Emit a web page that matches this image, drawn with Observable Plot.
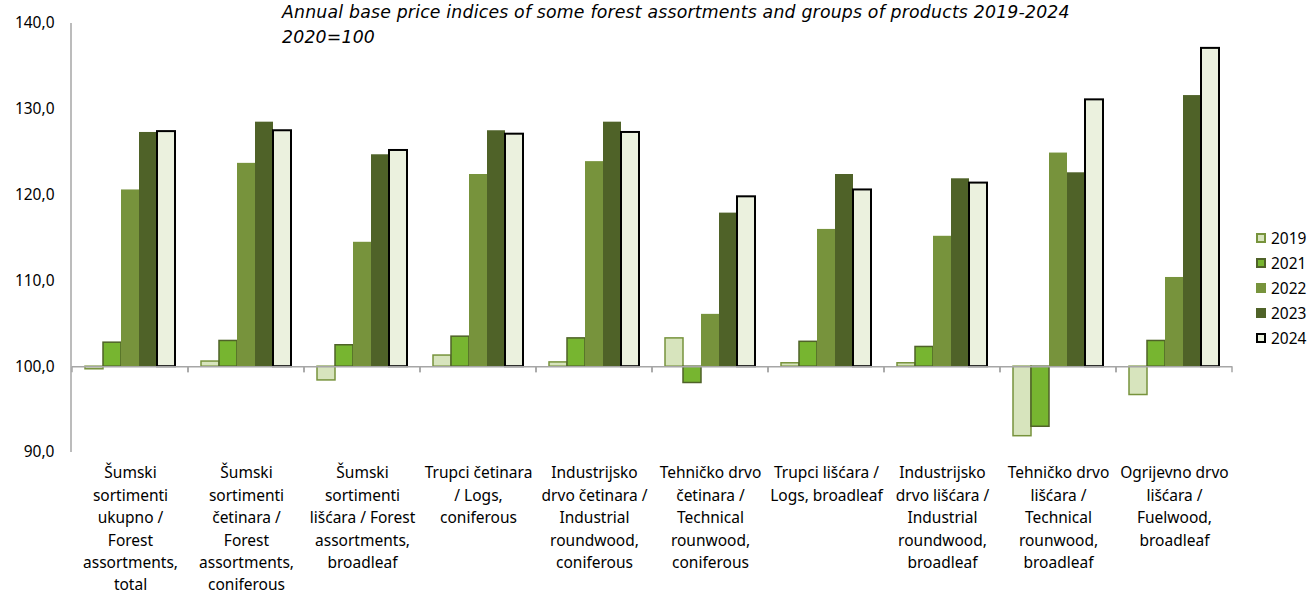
<!DOCTYPE html>
<html>
<head>
<meta charset="utf-8">
<script src="https://cdn.jsdelivr.net/npm/d3@7"></script>
<script src="https://cdn.jsdelivr.net/npm/@observablehq/plot@0.6"></script>
<style>
  html, body { margin: 0; padding: 0; background: #fff; }
  #wrap { position: relative; width: 1311px; height: 595px; font-family: "Noto Sans", Lato, sans-serif; }
  #title { position: absolute; left: 282px; top: 0px; font-family: "DejaVu Sans", "Noto Sans", sans-serif; font-style: italic; font-size: 17.3px; letter-spacing: 0.2px; line-height: 25px; color: #000; white-space: pre; }
  #legend { position: absolute; left: 1256px; top: 225px; font-size: 15.5px; color: #000; }
  .row { display: flex; align-items: center; height: 25px; }
  .sw { width: 10px; height: 10px; margin-right: 5px; box-sizing: border-box; }
</style>
</head>
<body>
<div id="wrap">
  <div id="chart"></div>
  <div id="title"></div>
  <div id="legend"></div>
</div>
<script>
const categories = [
  "Šumski\nsortimenti\nukupno /\nForest\nassortments,\ntotal",
  "Šumski\nsortimenti\nčetinara /\nForest\nassortments,\nconiferous",
  "Šumski\nsortimenti\nlišćara / Forest\nassortments,\nbroadleaf",
  "Trupci četinara\n/ Logs,\nconiferous",
  "Industrijsko\ndrvo četinara /\nIndustrial\nroundwood,\nconiferous",
  "Tehničko drvo\nčetinara /\nTechnical\nrounwood,\nconiferous",
  "Trupci lišćara /\nLogs, broadleaf",
  "Industrijsko\ndrvo lišćara /\nIndustrial\nroundwood,\nbroadleaf",
  "Tehničko drvo\nlišćara /\nTechnical\nrounwood,\nbroadleaf",
  "Ogrijevno drvo\nlišćara /\nFuelwood,\nbroadleaf"
];
const years = ["2019", "2021", "2022", "2023", "2024"];
const v2019 = [99.7, 100.6, 98.4, 101.3, 100.5, 103.3, 100.4, 100.4, 91.9, 96.7];
const v2021 = [102.8, 103.0, 102.5, 103.5, 103.3, 98.1, 102.9, 102.3, 93.0, 103.0];
const v2022 = [120.6, 123.7, 114.5, 122.4, 123.9, 106.1, 116.0, 115.2, 124.9, 110.4];
const v2023 = [127.3, 128.5, 124.7, 127.5, 128.5, 117.9, 122.4, 121.9, 122.6, 131.6];
const v2024 = [127.4, 127.5, 125.2, 127.1, 127.3, 119.8, 120.6, 121.4, 131.1, 137.1];
const yTicks = [90, 100, 110, 120, 130, 140];
const titleLines = ["Annual base price indices of some forest assortments and groups of products 2019-2024", "2020=100"];

const series = {"2019": v2019, "2021": v2021, "2022": v2022, "2023": v2023, "2024": v2024};
const fills = {"2019": "#d7e4bd", "2021": "#77b530", "2022": "#77933c", "2023": "#4f6228", "2024": "#ebf1de"};
const strokes = {"2019": "#77933c", "2021": "#4f6228", "2022": "none", "2023": "none", "2024": "#000000"};
const strokeWidths = {"2019": 1.5, "2021": 1.5, "2022": 0, "2023": 0, "2024": 2};

const rows = [];
for (const yr of years) {
  categories.forEach((c, i) => rows.push({category: c, year: yr, value: series[yr][i]}));
}

const boundaryTicks = (index, scales) => {
  const {x, y} = scales;
  const r = x.range();
  const y0 = y(100);
  const g = d3.create("svg:g").attr("stroke", "#a6a6a6").attr("stroke-width", 1.5);
  for (const xx of [r[0], r[1]]) {
    g.append("line").attr("x1", xx).attr("x2", xx).attr("y1", y0).attr("y2", y0 + 6);
  }
  return g.node();
};

const plot = Plot.plot({
  width: 1311,
  height: 595,
  marginLeft: 71,
  marginRight: 78,
  marginTop: 23,
  marginBottom: 143,
  style: {fontFamily: "'Noto Sans', Lato, sans-serif", background: "#fff", color: "#000"},
  fx: {domain: categories, padding: 0, label: null},
  x: {domain: years, paddingInner: 0, paddingOuter: 0.72, axis: null},
  y: {domain: [90, 140], label: null, axis: null},
  marks: [
    Plot.axisY({ticks: yTicks, tickFormat: d => d.toFixed(1).replace(".", ","), tickSize: 0, tickPadding: 18, fontSize: 15.5, label: null}),
    Plot.axisFx({anchor: "bottom", tickSize: 0, tickPadding: 10, fontSize: 15.5, lineHeight: 1.445, label: null, textAnchor: "middle"}),
    Plot.barY(rows, {
      fx: "category", x: "year", y1: 100, y2: "value",
      fill: d => fills[d.year],
      stroke: d => strokes[d.year],
      strokeWidth: d => strokeWidths[d.year]
    }),
    Plot.ruleY([100], {stroke: "#a6a6a6", strokeWidth: 1.5}),
    boundaryTicks
  ]
});

document.getElementById("chart").appendChild(plot);
d3.select(plot).append("line")
  .attr("x1", 71).attr("x2", 71).attr("y1", 23).attr("y2", 452)
  .attr("stroke", "#a6a6a6").attr("stroke-width", 1.5);

document.getElementById("title").textContent = titleLines.join("\n");

const legend = d3.select("#legend");
for (const yr of years) {
  const row = legend.append("div").attr("class", "row");
  row.append("div").attr("class", "sw")
    .style("background", fills[yr])
    .style("border", strokeWidths[yr] ? `${strokeWidths[yr] + 0.5}px solid ${strokes[yr]}` : "none");
  row.append("span").text(yr);
}
</script>
</body>
</html>
